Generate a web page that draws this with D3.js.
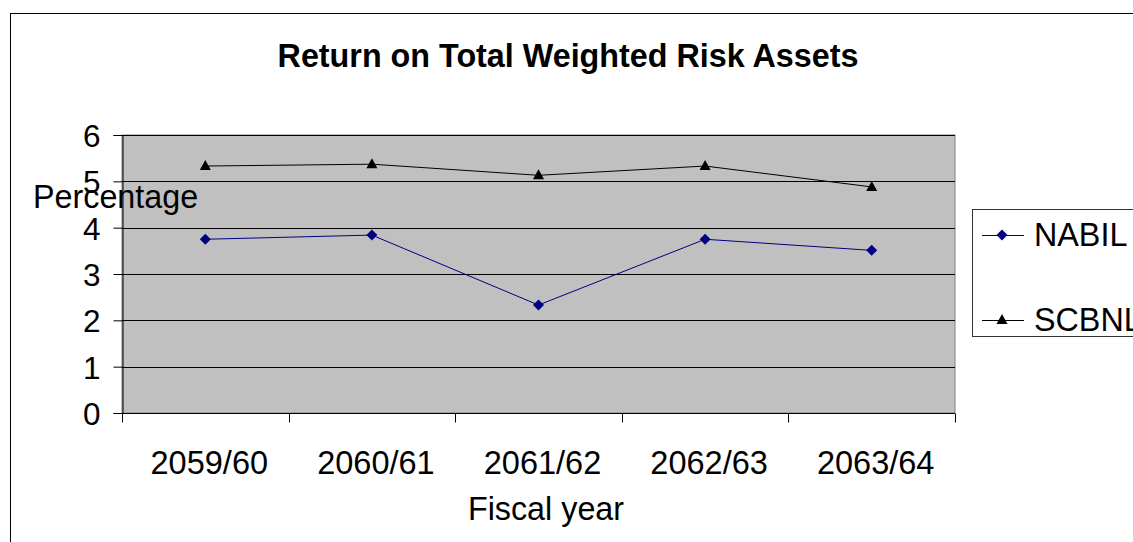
<!DOCTYPE html>
<html><head><meta charset="utf-8">
<script src="https://cdn.jsdelivr.net/npm/d3@7"></script>
<style>
html,body{margin:0;padding:0;background:#fff;}
svg{display:block;font-family:Arial,"Liberation Sans",sans-serif;}
</style></head>
<body>
<svg id="chart" width="1133" height="542"></svg>
<script>
const categories = ["2059/60","2060/61","2061/62","2062/63","2063/64"];
const nabil = [3.75, 3.84, 2.33, 3.75, 3.51];
const scbnl = [5.33, 5.37, 5.13, 5.33, 4.88];
const yTicks = [0,1,2,3,4,5,6];
const seriesNames = ["NABIL","SCBNL"];

const svg = d3.select("#chart");
const L = 122, R = 955, T = 135, B = 413;

// outer border
svg.append("rect").attr("x",10.5).attr("y",13.5).attr("width",1140).attr("height",540)
  .attr("fill","none").attr("stroke","#000").attr("stroke-width",1);

const x = d3.scaleBand().domain(categories).range([L,R]).padding(0);
const y = d3.scaleLinear().domain([0,6]).range([B,T]);

// plot area
svg.append("rect").attr("x",L).attr("y",T).attr("width",R-L).attr("height",B-T)
  .attr("fill","#c0c0c0").attr("stroke","#808080").attr("stroke-width",1);

// gridlines
svg.append("g").selectAll("line").data(yTicks.filter(d=>d>0)).join("line")
  .attr("x1",L).attr("x2",R).attr("y1",d=>Math.round(y(d))+0.5).attr("y2",d=>Math.round(y(d))+0.5)
  .attr("stroke","#000").attr("stroke-width",1);

// y axis
const yAxis = svg.append("g").attr("transform",`translate(${L+0.5},0)`)
  .call(d3.axisLeft(y).tickValues(yTicks).tickSize(9).tickPadding(13).tickFormat(d3.format("d")));
yAxis.select(".domain").attr("stroke","#000");
yAxis.selectAll(".tick line").attr("stroke","#000");
yAxis.selectAll("text").attr("font-size",31.5).attr("fill","#000")
  .attr("font-family","Arial, 'Liberation Sans', sans-serif").attr("dy","0.36em");

// x axis
const xAxis = svg.append("g").attr("transform",`translate(0,${B+0.5})`);
xAxis.append("line").attr("x1",L).attr("x2",R).attr("stroke","#000");
const bounds = categories.map(c=>x(c)).concat([x(categories[categories.length-1])+x.bandwidth()]);
xAxis.selectAll("line.tk").data(bounds).join("line").attr("class","tk")
  .attr("x1",d=>Math.round(d)+0.5).attr("x2",d=>Math.round(d)+0.5).attr("y1",0).attr("y2",9)
  .attr("stroke","#000");
xAxis.selectAll("text").data(categories).join("text")
  .attr("x",d=>x(d)+x.bandwidth()/2+4).attr("y",60)
  .attr("text-anchor","middle").attr("font-size",32.5).attr("fill","#000").text(d=>d);

// lines
const line = d3.line().x((d,i)=>x(categories[i])+x.bandwidth()/2).y(d=>y(d));
svg.append("path").datum(nabil).attr("d",line).attr("fill","none").attr("stroke","#000080").attr("stroke-width",1);
svg.append("path").datum(scbnl).attr("d",line).attr("fill","none").attr("stroke","#000").attr("stroke-width",1);

const diamond = "M0,-5.5L5.5,0L0,5.5L-5.5,0Z";
const tri = "M0,-6L5.5,4L-5.5,4Z";
svg.append("g").selectAll("path").data(nabil).join("path")
  .attr("transform",(d,i)=>`translate(${x(categories[i])+x.bandwidth()/2},${y(d)})`)
  .attr("d",diamond).attr("fill","#000080");
svg.append("g").selectAll("path").data(scbnl).join("path")
  .attr("transform",(d,i)=>`translate(${x(categories[i])+x.bandwidth()/2},${y(d)})`)
  .attr("d",tri).attr("fill","#000");

// title
svg.append("text").attr("x",568).attr("y",67).attr("text-anchor","middle")
  .attr("font-size",32.3).attr("font-weight","bold").attr("fill","#000")
  .text("Return on Total Weighted Risk Assets");

// axis titles
svg.append("text").attr("x",546).attr("y",520).attr("text-anchor","middle")
  .attr("font-size",32.3).attr("fill","#000").text("Fiscal year");
svg.append("text").attr("x",33).attr("y",208)
  .attr("font-size",32.3).attr("fill","#000").text("Percentage");

// legend
svg.append("rect").attr("x",972.5).attr("y",209.5).attr("width",200).attr("height",127)
  .attr("fill","#fff").attr("stroke","#333").attr("stroke-width",1);
const legY = [235, 320];
const legColors = ["#000080","#000"];
const legMarks = [diamond, tri];
seriesNames.forEach((n,i)=>{
  const g = svg.append("g");
  g.append("line").attr("x1",982).attr("x2",1024).attr("y1",legY[i]+0.5).attr("y2",legY[i]+0.5)
    .attr("stroke",legColors[i]).attr("stroke-width",1);
  g.append("path").attr("transform",`translate(1002,${legY[i]})`).attr("d",legMarks[i]).attr("fill",legColors[i]);
  g.append("text").attr("x",1034).attr("y",legY[i]+11).attr("font-size",32.3).attr("fill","#000").text(n);
});
</script>
</body></html>
